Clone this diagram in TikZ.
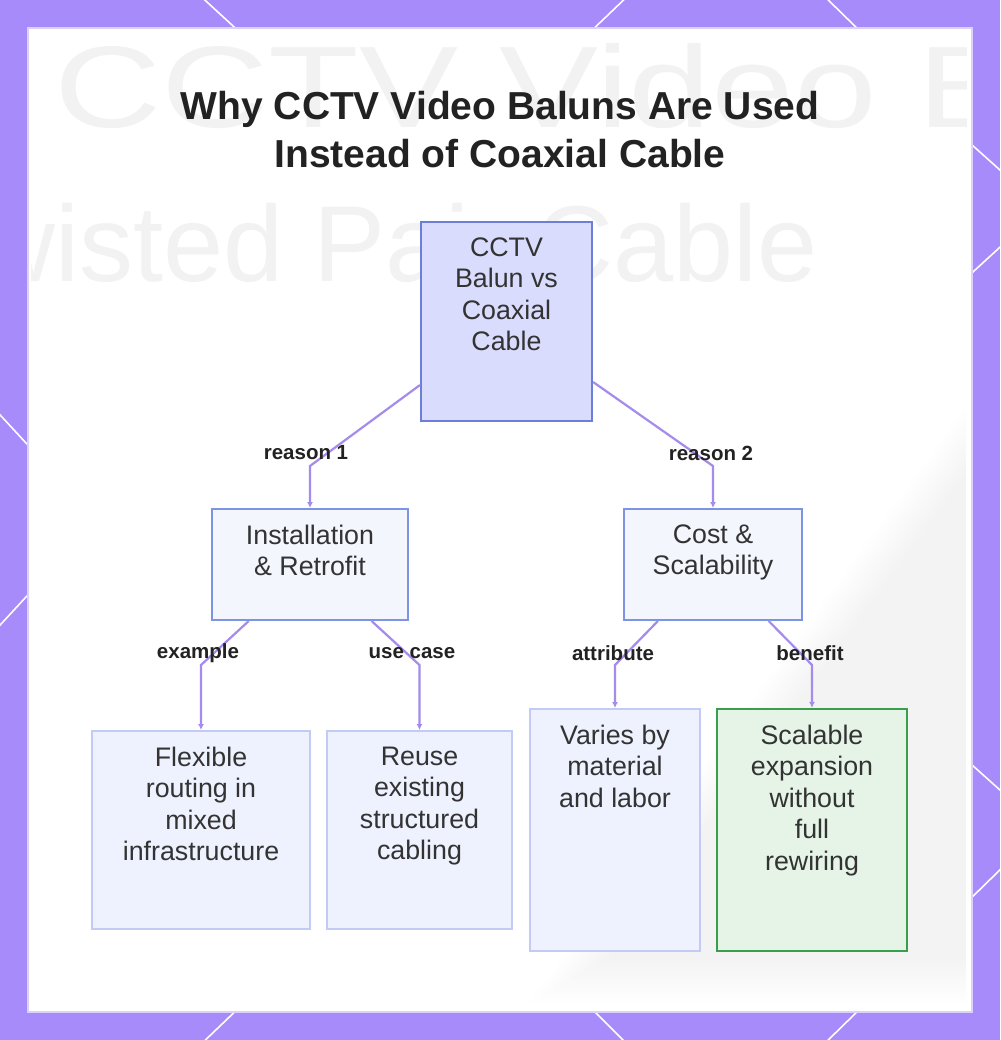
\documentclass[tikz,border=0pt]{standalone}
\usepackage{fontspec}
\setmainfont{Liberation Sans}
\usetikzlibrary{arrows.meta}
\definecolor{framec}{HTML}{A78BFA}
\definecolor{edgec}{HTML}{A58BEB}
\definecolor{rootfill}{HTML}{D9DCFC}
\definecolor{rootline}{HTML}{6C7FD8}
\definecolor{midfill}{HTML}{F4F6FE}
\definecolor{midline}{HTML}{7D93E3}
\definecolor{leaffill}{HTML}{EEF2FE}
\definecolor{leafline}{HTML}{C3CBF5}
\definecolor{goodfill}{HTML}{E5F4E6}
\definecolor{goodline}{HTML}{38A04C}
\definecolor{txtc}{HTML}{333333}
\definecolor{titlec}{HTML}{222222}
\definecolor{ghost}{HTML}{F2F2F2}
\tikzset{
  boxbase/.style={rectangle, inner sep=0pt},
  rootbox/.style={boxbase, fill=rootfill, draw=rootline, line width=2.2pt},
  midbox/.style={boxbase, fill=midfill, draw=midline, line width=2pt},
  leafbox/.style={boxbase, fill=leaffill, draw=leafline, line width=2pt},
  goodbox/.style={boxbase, fill=goodfill, draw=goodline, line width=2.2pt},
  txt/.style={anchor=north, inner sep=0pt, align=center, text=txtc, font=\fontsize{26.8}{31.5}\selectfont},
  elab/.style={inner sep=0pt, text=titlec, font=\fontsize{20.5}{24}\selectfont\bfseries},
  edge/.style={draw=edgec, line width=2.2pt, -{Latex[length=6pt,width=6pt]}},
  deco/.style={draw=white, line width=1.6pt}
}
\begin{document}
\begin{tikzpicture}[x=1pt,y=-1pt]
\useasboundingbox (0,0) rectangle (1000,1040);
% frame
\fill[framec] (0,0) rectangle (1000,1040);
\draw[deco] (195,-9) -- (245,37);
\draw[deco] (633,-9) -- (585,37);
\draw[deco] (818,-10) -- (867,38);
\draw[deco] (962,136) -- (1010,179);
\draw[deco] (962,282) -- (1010,238);
\draw[deco] (962,756) -- (1010,799);
\draw[deco] (962,907) -- (1010,860);
\draw[deco] (-10,404) -- (38,456);
\draw[deco] (-10,636) -- (38,584);
\draw[deco] (245,1002) -- (195,1050);
\draw[deco] (585,1002) -- (633,1050);
\draw[deco] (867,1002) -- (818,1050);
\fill[white] (28,28) rectangle (972,1012);
\draw[color={rgb,255:red,220;green,208;blue,252}, line width=1.2pt] (28,28) rectangle (972,1012);
% faint background
\begin{scope}
  \clip (31,31) rectangle (966,1009);
  \foreach \i in {0,...,11} {
    \fill[black, opacity=0.0045] ({975},{395+\i*6}) -- (975,{1003-\i*4}) -- ({530+\i*7},{1003-\i*4}) -- cycle;
  }
  \node[anchor=base west, inner sep=0pt, text=ghost, font=\fontsize{116}{116}\selectfont] (g1) at (54,128) {\scalebox{1.28}[1]{CCTV Video Balun}};
  \node[anchor=base east, inner sep=0pt, text=ghost, font=\fontsize{108}{108}\selectfont] (g2) at (818,282) {Twisted Pair Cable};
\end{scope}
% title
\node[align=center, inner sep=0pt, text=titlec, font=\fontsize{39}{48}\selectfont\bfseries, anchor=base] (title) at (500,168) {Why CCTV Video Baluns Are Used\\Instead of Coaxial Cable};
% boxes
\node[rootbox, minimum width=171pt, minimum height=199pt] (c) at (506.5,321.5) {};
\node[midbox, minimum width=196pt, minimum height=111pt] (inst) at (310,564.5) {};
\node[midbox, minimum width=178pt, minimum height=111pt] (cost) at (713,564.5) {};
\node[leafbox, minimum width=218pt, minimum height=198pt] (flex) at (201,830) {};
\node[leafbox, minimum width=185pt, minimum height=198pt] (reuse) at (419.5,830) {};
\node[leafbox, minimum width=170pt, minimum height=242pt] (vary) at (615,830) {};
\node[goodbox, minimum width=190pt, minimum height=242pt] (scal) at (812,830) {};
% texts
\node[txt] (c-t) at ([yshift=-16.5pt]c.north) {CCTV\\Balun vs\\Coaxial\\Cable};
\node[txt] (inst-t) at ([yshift=-16.5pt]inst.north) {Installation\\\& Retrofit};
\node[txt] (cost-t) at ([yshift=-16.5pt]cost.north) {Cost \&\\Scalability};
\node[txt] (flex-t) at ([yshift=-16.5pt]flex.north) {Flexible\\routing in\\mixed\\infrastructure};
\node[txt] (reuse-t) at ([yshift=-16.5pt]reuse.north) {Reuse\\existing\\structured\\cabling};
\node[txt] (vary-t) at ([yshift=-16.5pt]vary.north) {Varies by\\material\\and labor};
\node[txt] (scal-t) at ([yshift=-16.5pt]scal.north) {Scalable\\expansion\\without\\full\\rewiring};
% connectors
\coordinate (k1) at (310,466);
\coordinate (k2) at (713,466);
\coordinate (k3) at (201,665);
\coordinate (k4) at (419.5,665);
\coordinate (k5) at (615,665);
\coordinate (k6) at (812,665);
\draw[edge] (c) -- (k1) -- (inst);
\draw[edge] (c) -- (k2) -- (cost);
\draw[edge] (inst) -- (k3) -- (flex);
\draw[edge] (inst) -- (k4) -- (reuse);
\draw[edge] (cost) -- (k5) -- (vary);
\draw[edge] (cost) -- (k6) -- (scal);
% edge labels
\node[elab] (l1) at (306,453) {reason 1};
\node[elab] (l2) at (711,453) {reason 2};
\node[elab] (l3) at (198,653) {example};
\node[elab] (l4) at (412,653) {use case};
\node[elab] (l5) at (613,653) {attribute};
\node[elab] (l6) at (810,653) {benefit};
\end{tikzpicture}
\end{document}
